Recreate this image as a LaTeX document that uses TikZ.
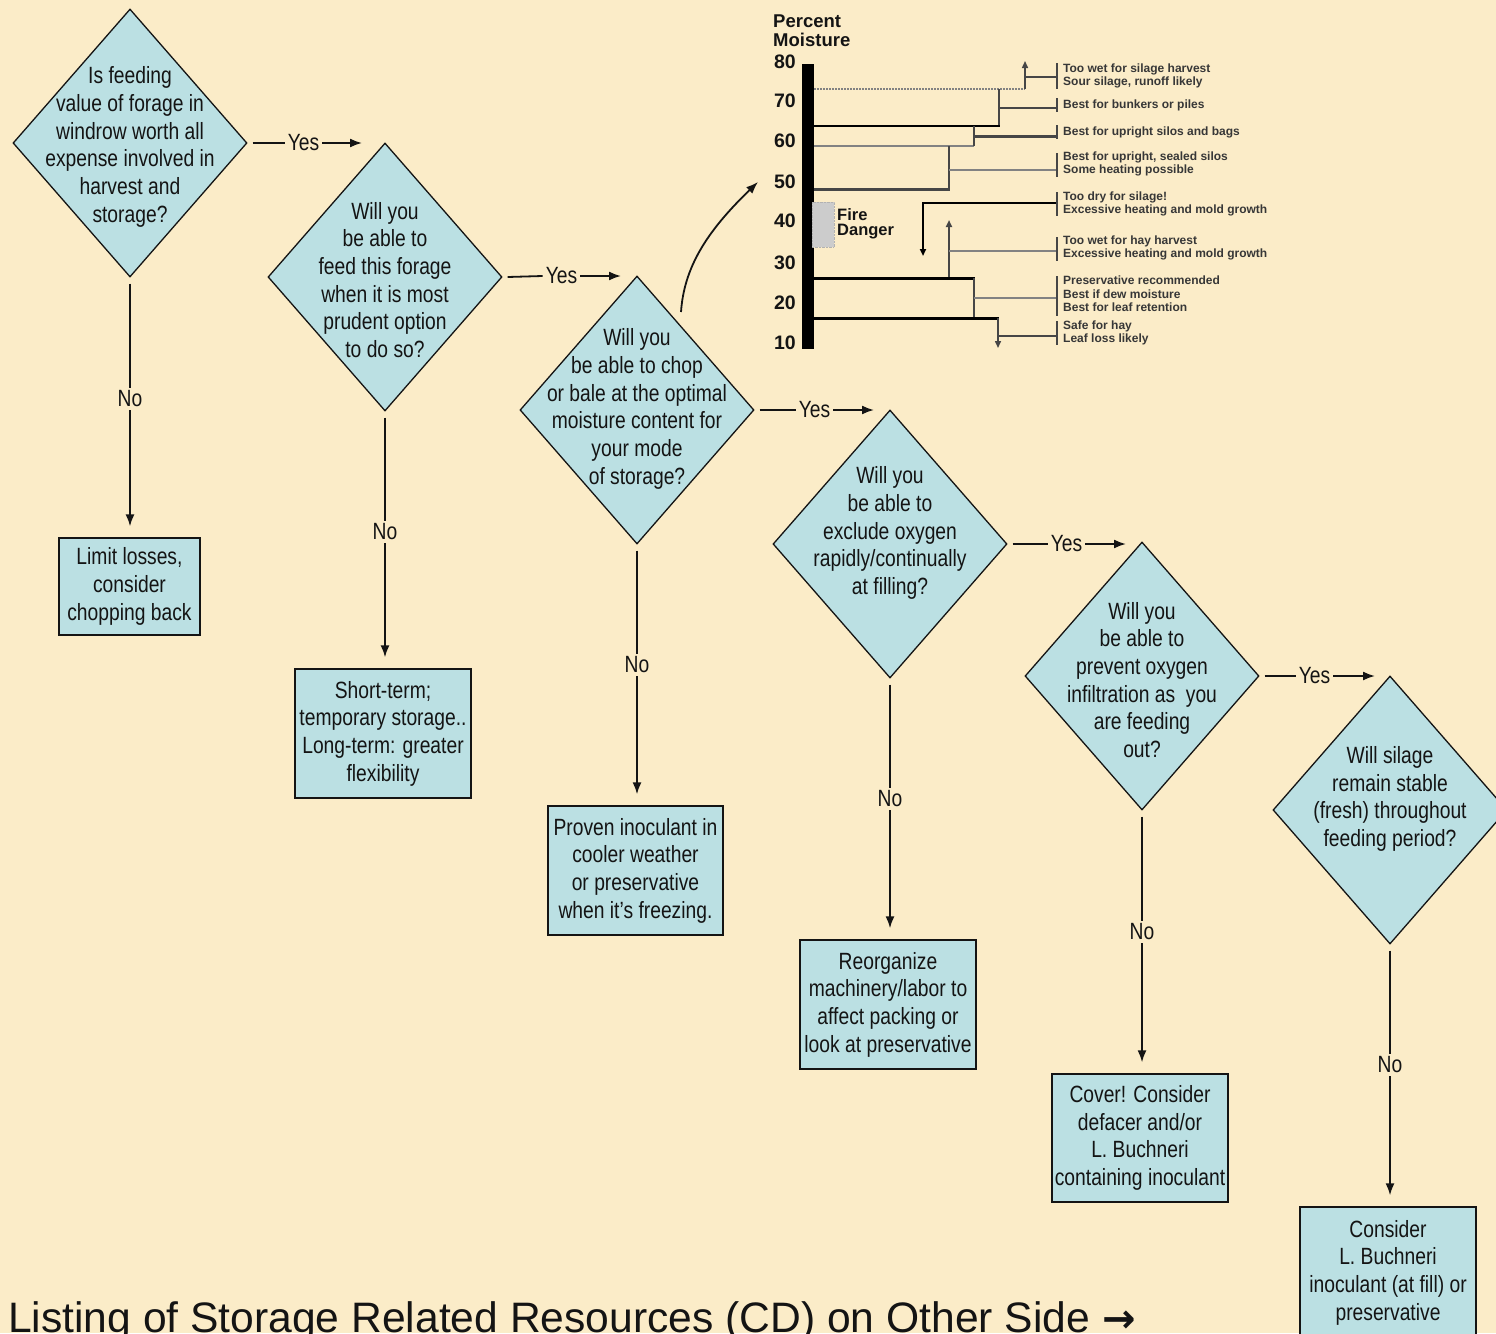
\documentclass[tikz,border=0pt]{standalone}
\usepackage{fontspec}
\setmainfont{Liberation Sans}[FakeStretch=0.82]
\newfontfamily\widefont{Liberation Sans}
\newfontfamily\chartfont{Liberation Sans}
\newfontfamily\symfont{DejaVu Sans}
\usetikzlibrary{shapes.geometric,arrows.meta}
\definecolor{bg}{RGB}{251,236,200}
\definecolor{fillc}{RGB}{187,224,227}
\definecolor{ink}{RGB}{20,20,20}
\definecolor{dgray}{RGB}{70,70,70}
\definecolor{lgray}{RGB}{130,130,130}
\tikzset{
  dia/.style={diamond, draw=ink, line width=1.3pt, fill=fillc, minimum width=234pt, minimum height=268pt, inner sep=0pt},
  dtext/.style={align=center, font=\fontsize{23.5}{27.7}\selectfont, text=ink, inner sep=0pt},
  box/.style={rectangle, draw=ink, line width=1.3pt, fill=fillc, align=center, font=\fontsize{23.5}{27.7}\selectfont, text=ink, inner sep=0pt},
  lbl/.style={font=\fontsize{23.5}{27.7}\selectfont, text=ink, inner sep=3pt},
  conn/.style={draw=ink, line width=1.8pt},
  arr/.style={conn, -{Latex[length=12pt,width=9pt]}},
  chartlbl/.style={anchor=west, inner sep=0pt, text=ink!85, font=\chartfont\bfseries\fontsize{12}{13}\selectfont},
  charttick/.style={anchor=east, inner sep=0pt, text=ink, font=\chartfont\bfseries\fontsize{19.5}{21}\selectfont},
  cline/.style={line width=1.5pt},
  ctip/.style={-{Triangle[length=7pt,width=6pt]}}
}
\begin{document}
\begin{tikzpicture}[x=1pt,y=-1pt]
\useasboundingbox (0,0) rectangle (1496,1333);
\clip (0,0) rectangle (1496,1333);
\fill[bg] (0,0) rectangle (1496,1333);

% ---------- moisture chart ----------
\node[anchor=west, inner sep=0pt, text=ink, font=\chartfont\bfseries\fontsize{18.5}{20}\selectfont] (cp) at (773,21) {Percent};
\node[anchor=west, inner sep=0pt, text=ink, font=\chartfont\bfseries\fontsize{18.5}{20}\selectfont] (cm) at (773,40) {Moisture};
\foreach \v/\yy in {80/62,70/101,60/141,50/182,40/221,30/263,20/303,10/343}
  \node[charttick] at (796,\yy) {\v};
\fill[black] (802,64) rectangle (814,349);
\fill[gray!40, draw=gray!60, densely dotted] (812,202) rectangle (834,247);
\node[anchor=west, inner sep=0pt, text=ink, font=\chartfont\bfseries\fontsize{16.5}{18}\selectfont] (fire) at (837,215) {Fire};
\node[anchor=west, inner sep=0pt, text=ink, font=\chartfont\bfseries\fontsize{16.5}{18}\selectfont] (danger) at (837,232) {Danger};

\draw[lgray, line width=2.5pt, dash pattern=on 2pt off 1pt] (814,89) -- (1025,89);
\draw[dgray, cline, ctip] (1025,89) -- (1025,61);
\draw[dgray, cline] (1025,77) -- (1057,77);
\draw[dgray, cline] (999,89) -- (999,126);
\draw[black, line width=2.5pt] (814,126) -- (1000,126);
\draw[dgray, cline] (999,108) -- (1057,108);
\draw[lgray, line width=2pt] (814,146) -- (974,146);
\draw[dgray, cline] (974,126) -- (974,146);
\draw[dgray, line width=3pt] (974,136) -- (1057,136);
\draw[dgray, cline] (949,146) -- (949,189);
\draw[dgray, line width=3pt] (814,189) -- (950,189);
\draw[lgray, cline] (949,170) -- (1057,170);
\draw[black, line width=2pt, ctip] (1057,203) -- (923,203) -- (923,256);
\draw[dgray, line width=2pt, ctip] (949,279) -- (949,220);
\draw[lgray, cline] (949,251) -- (1057,251);
\draw[black, line width=3pt] (814,278) -- (975,278);
\draw[dgray, cline] (974,278) -- (974,318);
\draw[lgray, line width=2pt] (974,298) -- (1057,298);
\draw[black, line width=3pt] (814,318) -- (999,318);
\draw[dgray, cline, ctip] (998,318) -- (998,348);
\draw[dgray, cline] (998,336) -- (1057,336);
\foreach \a/\b in {63/89,98/112,125/139,153/177,192/216,237/261,276/316,321/345}
  \draw[dgray, line width=2pt] (1057,\a) -- (1057,\b);

\node[chartlbl] (l1a) at (1063,69) {Too wet for silage harvest};
\node[chartlbl] (l1b) at (1063,82) {Sour silage, runoff likely};
\node[chartlbl] (l2) at (1063,105) {Best for bunkers or piles};
\node[chartlbl] (l3) at (1063,132) {Best for upright silos and bags};
\node[chartlbl] (l4a) at (1063,157) {Best for upright, sealed silos};
\node[chartlbl] (l4b) at (1063,170) {Some heating possible};
\node[chartlbl] (l5a) at (1063,197) {Too dry for silage!};
\node[chartlbl] (l5b) at (1063,210) {Excessive heating and mold growth};
\node[chartlbl] (l6a) at (1063,241) {Too wet for hay harvest};
\node[chartlbl] (l6b) at (1063,254) {Excessive heating and mold growth};
\node[chartlbl] (l7a) at (1063,280) {Preservative recommended};
\node[chartlbl] (l7b) at (1063,294) {Best if dew moisture};
\node[chartlbl] (l7c) at (1063,307) {Best for leaf retention};
\node[chartlbl] (l8a) at (1063,326) {Safe for hay};
\node[chartlbl] (l8b) at (1063,339) {Leaf loss likely};

% ---------- decision diamonds ----------
\node[dia] (d1) at (130,143) {};
\node[dia] (d2) at (385,277) {};
\node[dia] (d3) at (637,410) {};
\node[dia] (d4) at (890,544) {};
\node[dia] (d5) at (1142,676) {};
\node[dia] (d6) at (1390,810) {};
\node[dtext] (t1) at (130,147) {Is feeding\\value of forage in\\windrow worth all\\expense involved in\\harvest and\\storage?};
\node[dtext] (t2) at (385,280) {Will you\\be able to\\feed this forage\\when it is most\\prudent option\\to do so?};
\node[dtext] (t3) at (637,409) {Will you\\be able to chop\\or bale at the optimal\\moisture content for\\your mode\\of storage?};
\node[dtext] (t4) at (890,533) {Will you\\be able to\\exclude oxygen\\rapidly/continually\\at filling?};
\node[dtext] (t5) at (1142,680) {Will you\\be able to\\prevent oxygen\\infiltration as\ \ you\\are feeding\\out?};
\node[dtext] (t6) at (1390,799) {Will silage\\remain stable\\(fresh) throughout\\feeding period?};

% ---------- outcome boxes ----------
\node[box, minimum width=141pt, minimum height=97pt] (b1) at (129.5,586.5) {Limit losses,\\consider\\chopping back};
\node[box, minimum width=176pt, minimum height=129pt] (b2) at (383,733.5) {Short-term;\\temporary storage..\\Long-term: greater\\flexibility};
\node[box, minimum width=175pt, minimum height=129pt] (b3) at (635.5,870.5) {Proven inoculant in\\cooler weather\\or preservative\\when it's freezing.};
\node[box, minimum width=176pt, minimum height=129pt] (b4) at (888,1004.5) {Reorganize\\machinery/labor to\\affect packing or\\look at preservative};
\node[box, minimum width=176pt, minimum height=128pt] (b5) at (1140,1138) {Cover! Consider\\defacer and/or\\L. Buchneri\\containing inoculant};
\node[box, minimum width=176pt, minimum height=131pt] (b6) at (1388,1272.5) {Consider\\L. Buchneri\\inoculant (at fill) or\\preservative};

% ---------- Yes connectors ----------
\node[lbl] (y1) at (303.5,143) {Yes};
\node[lbl] (y2) at (561.5,276) {Yes};
\node[lbl] (y3) at (814.5,410) {Yes};
\node[lbl] (y4) at (1066.5,544) {Yes};
\node[lbl] (y5) at (1314.5,676) {Yes};
\coordinate (a1) at (362,143);
\coordinate (a2) at (621,276);
\coordinate (a3) at (874,410);
\coordinate (a4) at (1126,544);
\coordinate (a5) at (1375,676);
\foreach \d/\y/\a in {d1/y1/a1,d2/y2/a2,d3/y3/a3,d4/y4/a4,d5/y5/a5}{
  \draw[conn] ([xshift=5pt]\d.east) -- (\y.west);
  \draw[arr] (\y.east) -- (\a);
}

% ---------- No connectors ----------
\node[lbl] (n1) at (130,399) {No};
\node[lbl] (n2) at (385,532) {No};
\node[lbl] (n3) at (637,665) {No};
\node[lbl] (n4) at (890,799) {No};
\node[lbl] (n5) at (1142,932) {No};
\node[lbl] (n6) at (1390,1065) {No};
\foreach \d/\n/\b in {d1/n1/b1,d2/n2/b2,d3/n3/b3,d4/n4/b4,d5/n5/b5,d6/n6/b6}{
  \draw[conn] ([yshift=-6pt]\d.south) -- (\n.north);
  \draw[arr] (\n.south) -- ([yshift=11pt]\b.north -| \n.south);
}

% ---------- curved arrow to chart ----------
\coordinate (c0) at (681,312);
\coordinate (c1) at (758,182);
\draw[arr] (c0) .. controls (684,268) and (706,232) .. (c1);

% ---------- footer ----------
\node[anchor=base west, inner sep=0pt, text=ink, font=\widefont\fontsize{42.6}{48}\selectfont] (foot) at (8,1332) {Listing of Storage Related Resources (CD) on Other Side {\symfont\bfseries\fontsize{40}{44}\selectfont →}};
\end{tikzpicture}
\end{document}
